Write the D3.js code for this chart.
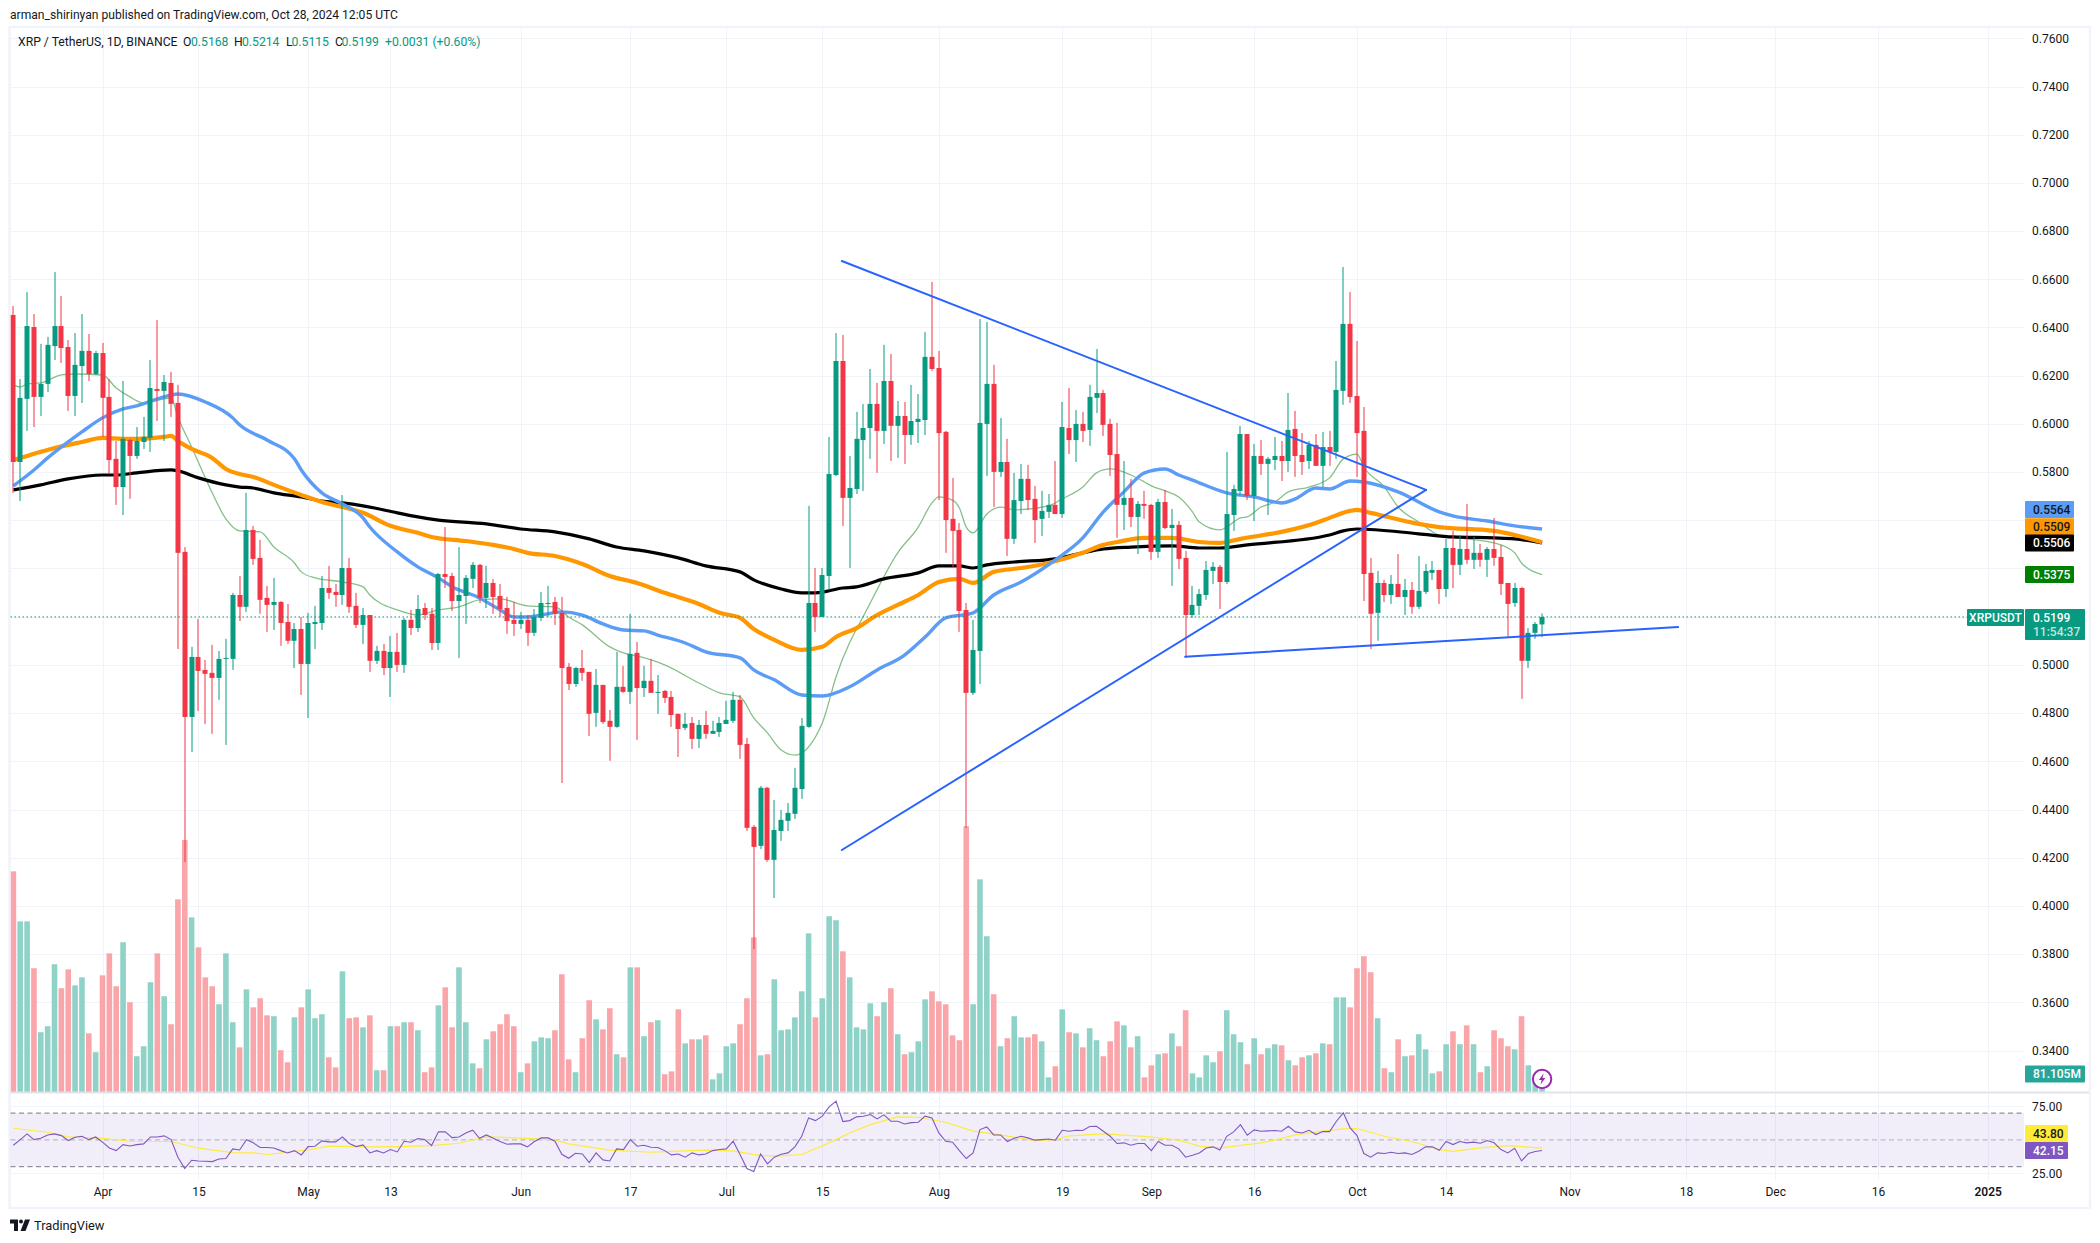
<!DOCTYPE html>
<html><head><meta charset="utf-8">
<style>
html,body{margin:0;padding:0;background:#fff}
svg{display:block}
text{font-family:Roboto,sans-serif}
</style>
<script src="https://cdn.jsdelivr.net/npm/d3@7/dist/d3.min.js"></script>
</head><body><svg id="c" width="2100" height="1243"></svg>
<script>
// ---- data (prices in USDT) ----
const firstDay = "2024-03-19";
const open = [
.6452,.5842,.6104,.6402,.6112,.6166,.6323,.6406,.6319,.6116,
.6240,.6303,.6207,.6294,.6112,.5855,.5738,.5933,.5867,.5925,
.5942,.6145,.6137,.6170,.6087,.5469,.4784,.5033,.4979,.4967,
.4946,.5025,.5025,.5290,.5241,.5560,.5444,.5278,.5249,.5261,
.5178,.5100,.5149,.5004,.5170,.5174,.5319,.5303,.5290,.5402,
.5245,.5166,.5207,.5017,.5058,.4987,.5054,.5000,.5187,.5153,
.5236,.5212,.5091,.5377,.5369,.5265,.5286,.5357,.5415,.5278,
.5340,.5286,.5236,.5187,.5170,.5187,.5133,.5195,.5253,.5261,
.5216,.4992,.4921,.4987,.4971,.4801,.4917,.4768,.4743,.4909,
.4888,.5050,.4904,.4934,.4884,.4892,.4867,.4797,.4739,.4759,
.4693,.4751,.4714,.4722,.4755,.4768,.4855,.4672,.4328,.4249,
.4490,.4191,.4311,.4353,.4382,.4485,.4743,.5257,.5199,.5369,
.5788,.6261,.5693,.5730,.5933,.5983,.6083,.5971,.6178,.5992,
.6033,.5954,.6008,.6016,.6278,.6232,.5967,.5606,.5560,.5228,
.4884,.5058,.6000,.6166,.5801,.5842,.5523,.5680,.5772,.5689,
.5606,.5635,.5664,.5626,.5983,.5933,.6000,.5975,.6108,.6128,
.6000,.5875,.5664,.5693,.5614,.5668,.5664,.5469,.5676,.5568,
.5581,.5444,.5207,.5245,.5290,.5390,.5407,.5344,.5622,.5722,
.5958,.5701,.5867,.5834,.5850,.5867,.5846,.5979,.5871,.5846,
.5913,.5826,.5904,.5884,.6137,.6415,.6116,.5971,.5382,.5216,
.5340,.5290,.5336,.5282,.5311,.5241,.5303,.5382,.5394,.5315,
.5485,.5415,.5481,.5436,.5465,.5436,.5481,.5448,.5340,.5257,
.5319,.5017,.5133,.5168];
const high = [
.6489,.6186,.6547,.6456,.6332,.6361,.6630,.6531,.6348,.6377,
.6456,.6373,.6303,.6336,.6186,.5929,.6178,.5938,.5987,.6029,
.6265,.6431,.6203,.6216,.6162,.5489,.5075,.5191,.5021,.5083,
.5058,.5108,.5299,.5369,.5714,.5577,.5519,.5328,.5361,.5265,
.5253,.5174,.5199,.5216,.5245,.5369,.5411,.5336,.5705,.5444,
.5299,.5236,.5207,.5079,.5087,.5120,.5133,.5195,.5228,.5290,
.5257,.5236,.5382,.5572,.5382,.5489,.5373,.5427,.5419,.5411,
.5357,.5336,.5282,.5261,.5220,.5207,.5232,.5303,.5328,.5282,
.5282,.5008,.4992,.5062,.4971,.4983,.4917,.4813,.5054,.4996,
.5212,.5095,.4996,.5025,.4958,.4896,.4892,.4797,.4801,.4784,
.4772,.4809,.4768,.4784,.4851,.4888,.4875,.4697,.4336,.4498,
.4494,.4440,.4398,.4427,.4573,.4780,.5660,.5402,.5402,.5946,
.6377,.6369,.5867,.6050,.6083,.6228,.6170,.6328,.6290,.6095,
.6091,.6162,.6124,.6381,.6589,.6303,.5971,.5776,.5589,.5257,
.5187,.6435,.6423,.6245,.6025,.5938,.5797,.5834,.5830,.5743,
.5722,.5709,.5846,.6091,.6149,.6058,.6050,.6162,.6311,.6141,
.6021,.6004,.5846,.5772,.5680,.5722,.5668,.5689,.5726,.5647,
.5597,.5473,.5328,.5315,.5431,.5427,.5415,.5884,.5747,.5992,
.5958,.5917,.5933,.5863,.5946,.5929,.6128,.6054,.5962,.5929,
.5958,.5967,.5971,.6261,.6651,.6547,.6344,.6070,.5444,.5390,
.5353,.5373,.5460,.5357,.5344,.5452,.5419,.5431,.5394,.5523,
.5556,.5539,.5668,.5531,.5502,.5489,.5610,.5498,.5340,.5340,
.5324,.5153,.5178,.5214];
const low = [
.5714,.5680,.5971,.5987,.6033,.6133,.6265,.6253,.6054,.6033,
.6087,.6178,.6203,.5946,.5792,.5664,.5622,.5689,.5855,.5896,
.5884,.6012,.5929,.6029,.5066,.4183,.4639,.4809,.4755,.4714,
.4855,.4668,.4979,.5182,.5220,.5415,.5212,.5137,.5145,.5079,
.5087,.4987,.4875,.4780,.5066,.5145,.5274,.5241,.5249,.5216,
.5153,.5087,.4971,.5004,.4958,.4867,.4971,.4967,.5124,.5137,
.5187,.5062,.5062,.5319,.5224,.5029,.5170,.5319,.5257,.5236,
.5212,.5199,.5129,.5120,.5149,.5079,.5120,.5182,.5199,.5166,
.4510,.4896,.4909,.4934,.4705,.4743,.4755,.4602,.4739,.4884,
.4838,.4689,.4867,.4884,.4797,.4842,.4743,.4618,.4730,.4651,
.4655,.4693,.4714,.4701,.4755,.4759,.4610,.4311,.3821,.4236,
.4183,.4033,.4270,.4311,.4361,.4444,.4739,.5137,.5199,.5311,
.5784,.5577,.5402,.5709,.5722,.5855,.5797,.5917,.5846,.5859,
.5834,.5913,.5921,.5954,.6220,.5684,.5465,.5407,.5137,.4324,
.4875,.4921,.5784,.5655,.5780,.5452,.5502,.5626,.5643,.5506,
.5535,.5610,.5626,.5610,.5875,.5842,.5925,.5909,.6045,.5950,
.5784,.5527,.5560,.5572,.5460,.5606,.5436,.5444,.5564,.5328,
.5398,.5029,.5195,.5207,.5270,.5336,.5232,.5336,.5556,.5705,
.5684,.5597,.5788,.5622,.5809,.5763,.5801,.5780,.5788,.5813,
.5826,.5738,.5826,.5855,.6079,.6087,.5780,.5265,.5066,.5100,
.5261,.5253,.5282,.5207,.5212,.5232,.5294,.5353,.5253,.5282,
.5319,.5373,.5419,.5398,.5407,.5365,.5411,.5290,.5116,.5241,
.4859,.4987,.5108,.5115];
const close = [
.5842,.6108,.6406,.6112,.6166,.6328,.6406,.6315,.6116,.6245,
.6303,.6207,.6294,.6108,.5850,.5738,.5938,.5867,.5929,.5946,
.6149,.6137,.6174,.6083,.5465,.4784,.5033,.4975,.4963,.4946,
.5025,.5029,.5290,.5241,.5560,.5440,.5270,.5249,.5261,.5174,
.5100,.5149,.5004,.5174,.5178,.5319,.5299,.5290,.5402,.5241,
.5166,.5207,.5017,.5058,.4987,.5054,.5000,.5187,.5153,.5232,
.5207,.5091,.5377,.5365,.5265,.5290,.5361,.5415,.5278,.5340,
.5282,.5232,.5182,.5170,.5187,.5133,.5199,.5257,.5257,.5212,
.4987,.4921,.4987,.4967,.4797,.4917,.4763,.4743,.4909,.4888,
.5046,.4904,.4934,.4884,.4888,.4863,.4792,.4734,.4755,.4693,
.4751,.4714,.4726,.4759,.4772,.4855,.4668,.4324,.4245,.4490,
.4191,.4315,.4357,.4386,.4490,.4747,.5257,.5199,.5373,.5792,
.6261,.5693,.5734,.5938,.5983,.6083,.5971,.6178,.5992,.6033,
.5954,.6012,.6021,.6278,.6228,.5962,.5601,.5556,.5224,.4884,
.5062,.6004,.6166,.5801,.5842,.5523,.5684,.5772,.5684,.5601,
.5639,.5664,.5626,.5987,.5933,.6000,.5971,.6112,.6128,.5996,
.5871,.5664,.5693,.5614,.5668,.5660,.5469,.5676,.5568,.5581,
.5440,.5207,.5249,.5294,.5394,.5407,.5344,.5626,.5730,.5958,
.5701,.5867,.5834,.5855,.5867,.5846,.5975,.5867,.5842,.5913,
.5826,.5904,.5884,.6141,.6415,.6112,.5962,.5377,.5212,.5340,
.5290,.5336,.5282,.5311,.5241,.5307,.5390,.5394,.5315,.5485,
.5415,.5481,.5436,.5465,.5436,.5481,.5444,.5336,.5253,.5319,
.5017,.5133,.5170,.5199];
// volume, millions
const volume = [
993,768,768,557,269,296,575,467,552,480,516,264,179,525,624,476,674,404,161,206,
494,624,431,305,867,1134,786,651,516,476,395,624,314,201,462,381,422,345,341,188,
134,336,381,462,332,350,156,111,543,332,336,291,345,98,98,296,296,314,314,278,
89,111,390,471,291,561,314,129,107,237,273,305,350,296,89,129,228,246,242,278,
530,147,89,242,413,327,282,377,170,156,561,561,251,314,323,80,93,372,219,237,
237,255,57,84,206,219,305,422,696,165,170,507,278,282,336,453,714,336,422,791,
773,633,516,291,282,399,341,404,467,260,170,179,228,417,453,408,395,255,233,1196,
395,957,701,440,206,242,341,246,246,260,228,66,116,372,269,264,201,287,233,161,
228,318,300,201,251,66,120,170,174,264,206,368,84,66,165,134,183,368,260,224,
125,242,170,197,215,210,143,120,156,165,174,219,215,426,426,381,557,611,539,332,
107,89,237,161,165,260,192,84,93,215,273,215,300,215,89,116,278,242,206,192,
341,120,68,81.105];
const rsi = [
46.0,50.2,54.5,50.2,51.2,53.7,54.5,53.2,49.5,52.0,52.7,50.2,52.2,48.3,44.0,42.0,46.5,45.5,46.5,47.0,
52.2,52.2,53.0,50.2,37.1,28.6,34.8,34.3,34.1,33.8,35.8,36.1,43.3,42.5,50.2,47.8,44.3,44.3,44.0,42.0,
40.3,42.0,38.8,45.0,45.3,49.3,48.5,48.5,52.2,47.3,45.0,46.3,40.3,42.0,40.3,42.8,41.0,49.0,48.3,51.0,
50.2,45.8,56.0,56.0,51.7,52.2,55.2,57.2,51.2,53.7,51.2,48.8,46.8,47.0,47.0,44.8,48.8,51.5,51.5,49.0,
39.3,36.3,40.0,39.5,33.1,40.3,35.1,34.3,43.3,42.8,50.2,45.3,46.0,44.5,44.3,42.0,38.8,39.5,37.1,40.3,
38.8,39.5,42.0,42.8,43.3,49.0,39.1,28.6,26.4,39.5,32.1,37.1,39.3,40.3,44.8,52.7,66.4,64.4,67.7,74.6,
78.9,63.7,64.4,67.2,67.7,68.9,65.7,68.7,63.9,63.9,61.9,62.9,63.2,67.7,66.4,55.2,49.0,48.3,42.0,36.1,
40.3,57.7,59.7,53.7,53.7,48.8,51.2,52.7,51.5,49.8,50.2,50.7,49.8,57.2,56.5,57.2,57.0,60.0,60.2,56.5,
52.7,47.3,47.8,46.0,47.3,47.3,42.0,48.8,46.0,46.0,43.3,37.1,38.6,40.3,44.0,44.8,42.5,52.7,56.0,61.4,
53.5,57.5,56.5,56.7,57.0,56.5,60.2,56.0,55.2,57.2,54.0,56.2,56.2,63.9,70.2,59.0,53.2,39.8,37.1,40.3,
39.8,40.8,39.8,40.3,39.1,41.5,44.8,44.8,42.3,48.8,46.5,48.8,47.8,48.3,47.5,49.5,47.8,42.8,40.3,43.8,
34.3,39.8,41.3,42.15];
// RSI moving average, read at selected bars
const rsiMaBar = [0,5,8,13,17,23,27,32,35,37,43,46,52,56,61,65,69,75,79,81,87,93,96,101,105,109,112,115,119,122,125,129,132,136,140,144,149,152,154,159,165,170,173,176,182,184,187,191,194,196,200,204,208,210,214,218,223];
const rsiMaVal = [58.7,55.7,52.2,51.2,49.0,48.8,43.8,40.5,40.3,39.1,42.5,45.3,44.8,45.0,45.8,47.5,52.2,51.2,50.0,47.0,42.3,40.8,41.5,42.3,41.8,38.3,38.1,39.1,47.8,55.2,61.4,67.2,66.9,63.2,56.5,53.7,49.5,50.2,53.0,54.5,52.7,49.8,45.3,44.0,47.8,49.8,53.7,56.5,58.2,58.5,52.7,48.8,42.8,41.5,44.0,45.8,43.8];
// moving averages on price, read at selected bars
const blueBar = [0,3,5,10,13,16,18,22,24,28,32,33,37,41,42,45,48,51,52,56,59,62,64,68,71,73,75,80,83,86,89,92,94,98,101,106,108,111,115,118,122,126,130,133,136,140,143,147,152,156,159,162,165,168,170,172,177,181,185,187,190,192,195,197,202,208,210,215,219,223];
const blueVal = [.5743,.5809,.5859,.5967,.6025,.6062,.6075,.6112,.6124,.6091,.6025,.5996,.5933,.5855,.5809,.5714,.5668,.5610,.5572,.5469,.5407,.5361,.5324,.5278,.5228,.5199,.5199,.5220,.5207,.5170,.5145,.5141,.5124,.5091,.5054,.5029,.4979,.4938,.4875,.4871,.4909,.4979,.5041,.5116,.5195,.5216,.5290,.5344,.5436,.5527,.5635,.5718,.5797,.5813,.5788,.5767,.5714,.5697,.5672,.5689,.5734,.5730,.5763,.5759,.5718,.5635,.5618,.5597,.5577,.5564];
const orangeBar = [0,2,4,6,10,13,16,18,22,23,24,26,29,31,33,35,38,42,45,48,51,55,59,61,66,70,73,75,79,83,87,91,95,100,103,106,108,111,115,118,120,123,126,129,132,135,138,140,143,147,151,156,159,161,165,169,173,176,179,185,190,192,195,196,198,205,208,216,219,223];
const orangeVal = [.5850,.5867,.5884,.5900,.5925,.5942,.5938,.5938,.5946,.5950,.5929,.5896,.5859,.5813,.5792,.5780,.5747,.5705,.5676,.5655,.5631,.5577,.5548,.5531,.5514,.5498,.5481,.5465,.5452,.5419,.5369,.5340,.5299,.5253,.5216,.5195,.5149,.5104,.5062,.5075,.5116,.5153,.5207,.5249,.5290,.5344,.5357,.5340,.5386,.5402,.5423,.5465,.5498,.5510,.5527,.5527,.5510,.5506,.5523,.5552,.5589,.5610,.5639,.5643,.5631,.5585,.5572,.5556,.5539,.5509];
const blackBar = [0,4,8,13,15,18,23,24,27,31,33,35,38,42,45,48,51,56,59,62,69,74,79,84,88,92,97,101,106,108,112,115,117,121,123,127,132,135,138,140,142,146,152,156,159,163,169,173,176,180,192,194,196,205,210,216,219,223];
const blackVal = [.5726,.5747,.5772,.5788,.5788,.5797,.5809,.5805,.5776,.5747,.5738,.5734,.5714,.5697,.5680,.5672,.5660,.5631,.5614,.5601,.5585,.5564,.5552,.5523,.5489,.5473,.5444,.5411,.5386,.5353,.5315,.5299,.5299,.5319,.5324,.5357,.5382,.5411,.5411,.5402,.5415,.5427,.5440,.5465,.5481,.5489,.5494,.5485,.5485,.5498,.5539,.5556,.5564,.5544,.5531,.5527,.5523,.5506];
const greenBar = [0,1,2,4,7,9,13,15,17,19,23,24,26,29,31,33,36,38,41,42,44,48,51,52,56,59,62,65,68,71,75,79,81,83,87,89,91,95,100,103,106,108,110,112,114,118,120,125,129,132,134,135,137,138,139,140,142,144,146,151,153,156,158,160,163,165,166,168,170,172,173,176,177,179,180,182,184,186,189,192,194,196,197,200,202,205,208,212,216,219,220,223];
const greenVal = [.6162,.6153,.6166,.6170,.6203,.6207,.6203,.6149,.6112,.6087,.6108,.6029,.5904,.5714,.5606,.5556,.5552,.5489,.5423,.5386,.5361,.5344,.5324,.5290,.5228,.5207,.5228,.5241,.5270,.5274,.5245,.5241,.5199,.5166,.5075,.5050,.5037,.5000,.4925,.4884,.4867,.4780,.4718,.4647,.4626,.4759,.4950,.5257,.5465,.5572,.5672,.5697,.5684,.5651,.5572,.5548,.5626,.5655,.5643,.5660,.5689,.5738,.5797,.5813,.5788,.5759,.5743,.5722,.5697,.5635,.5593,.5560,.5572,.5610,.5614,.5655,.5676,.5718,.5738,.5776,.5855,.5875,.5821,.5738,.5655,.5593,.5539,.5523,.5506,.5465,.5423,.5375];
// drawn trend lines: [bar, price, bar, price]
const trendLines = [[120.85,.6676,206.08,.5726],[120.85,.4232,206.08,.5726],[170.93,.5034,242.85,.5157]];
const priceGrid = [.76,.74,.72,.70,.68,.66,.64,.62,.60,.58,.56,.54,.52,.50,.48,.46,.44,.42,.40,.38,.36,.34];
const priceHiddenLabels = [.56,.54,.52]; // covered by the value tags in the reference
const rsiTicks = [75,25];
const rsiLevels = [70,50,30];
const timeTickDates = ["2024-04-01","2024-04-15","2024-05-01","2024-05-13","2024-06-01","2024-06-17","2024-07-01","2024-07-15","2024-08-01","2024-08-19","2024-09-01","2024-09-16","2024-10-01","2024-10-14","2024-11-01","2024-11-18","2024-12-01","2024-12-16","2025-01-01"];
const timeTickLabels = ["Apr","15","May","13","Jun","17","Jul","15","Aug","19","Sep","16","Oct","14","Nov","18","Dec","16","2025"];
const headerText = "arman_shirinyan published on TradingView.com, Oct 28, 2024 12:05 UTC";
const symbolText = "XRP / TetherUS, 1D, BINANCE";

// ---- layout ----
const UP="#089981", DOWN="#f23645", INK="#131722";
const L=10.5, R=2024, TOP=28, MAINB=1092, RSIB=1180;
const DAY=864e5, t0=Date.parse(firstDay);
const dateOf=i=>new Date(t0+i*DAY);
const x=d3.scaleUtc().domain([new Date("2024-04-01"),new Date("2024-10-01")]).range([102.5,1357]);
const xb=i=>x(dateOf(i));
const y=d3.scaleLinear().domain([.76,.34]).range([38.3,1050.5]);
const yv=d3.scaleLinear().domain([0,1000]).range([MAINB,MAINB-222.2]);
const yr=d3.scaleLinear().domain([75,25]).range([1106.4,1173.4]);

const svg=d3.select("#c");
svg.append("defs").append("clipPath").attr("id","pane").append("rect").attr("x",L).attr("y",TOP).attr("width",R-L).attr("height",MAINB-TOP);
const GRID="#f0f3fa";
svg.append("rect").attr("x",9.5).attr("y",27).attr("width",2080.5).attr("height",1181).attr("fill","#fff").attr("stroke",GRID).attr("stroke-width",2.4);

// grid
const tDates=timeTickDates.map(d=>new Date(d));
const g=svg.append("g").attr("stroke",GRID).attr("stroke-width",1);
g.selectAll(".v").data(tDates).join("line").attr("x1",d=>Math.round(x(d))+.5).attr("x2",d=>Math.round(x(d))+.5).attr("y1",TOP).attr("y2",RSIB);
g.selectAll(".h").data(priceGrid).join("line").attr("x1",L).attr("x2",R).attr("y1",d=>Math.round(y(d))+.5).attr("y2",d=>Math.round(y(d))+.5);

// main pane
const main=svg.append("g").attr("clip-path","url(#pane)");
const bars=d3.range(close.length);
const isUp=i=>close[i]>=open[i];
main.append("g").selectAll("rect").data(bars).join("rect")
 .attr("x",i=>xb(i)-2.8).attr("width",5.6)
 .attr("y",i=>yv(volume[i])).attr("height",i=>MAINB-yv(volume[i]))
 .attr("fill",i=>isUp(i)?"#8fd2c7":"#f9a5a9");

function drawMA(bar,val,color,w){
  const ln=d3.line().x(d=>xb(d[0])).y(d=>y(d[1])).curve(d3.curveMonotoneX);
  main.append("path").attr("d",ln(bar.map((b,k)=>[b,val[k]]))).attr("fill","none").attr("stroke",color).attr("stroke-width",w).attr("stroke-linejoin","round");
}
drawMA(greenBar,greenVal,"#85c088",1.3);
drawMA(blackBar,blackVal,"#000000",3.2);
drawMA(orangeBar,orangeVal,"#ff9800",4.2);
drawMA(blueBar,blueVal,"#5b9cf6",3.4);

const cg=main.append("g");
cg.selectAll(".w").data(bars).join("rect")
 .attr("x",i=>Math.round(xb(i))-.5).attr("width",1)
 .attr("y",i=>y(high[i])).attr("height",i=>y(low[i])-y(high[i]))
 .attr("fill",i=>isUp(i)?UP:DOWN);
cg.selectAll(".b").data(bars).join("rect")
 .attr("x",i=>Math.round(xb(i))-2.5).attr("width",5)
 .attr("y",i=>y(Math.max(open[i],close[i])))
 .attr("height",i=>Math.max(1,Math.abs(y(open[i])-y(close[i]))))
 .attr("fill",i=>isUp(i)?UP:DOWN);

main.append("g").selectAll("line").data(trendLines).join("line")
 .attr("x1",d=>xb(d[0])).attr("y1",d=>y(d[1])).attr("x2",d=>xb(d[2])).attr("y2",d=>y(d[3]))
 .attr("stroke","#2962ff").attr("stroke-width",2).attr("stroke-linecap","round");

const lastC=close[close.length-1];
svg.append("line").attr("x1",L).attr("x2",1967).attr("y1",y(lastC)).attr("y2",y(lastC))
 .attr("stroke",UP).attr("stroke-width",1).attr("stroke-dasharray","1.5 2.5");

svg.append("line").attr("x1",L).attr("x2",2089).attr("y1",MAINB+.5).attr("y2",MAINB+.5).attr("stroke","#e0e3eb").attr("stroke-width",2);

// RSI pane
svg.append("rect").attr("x",L).attr("width",R-L).attr("y",yr(70)).attr("height",yr(30)-yr(70)).attr("fill","#7e57c2").attr("fill-opacity",.1);
const gr=svg.append("g");
gr.selectAll("line.t").data(rsiTicks).join("line").attr("x1",L).attr("x2",R).attr("y1",d=>yr(d)).attr("y2",d=>yr(d)).attr("stroke",GRID);
gr.selectAll("line.l").data(rsiLevels).enter().append("line").attr("x1",L).attr("x2",R).attr("y1",d=>yr(d)).attr("y2",d=>yr(d))
 .attr("stroke","#787b86").attr("stroke-opacity",d=>d===50?.55:1).attr("stroke-width",1).attr("stroke-dasharray","5 3.5");
const lr=d3.line().x(d=>xb(d[0])).y(d=>yr(d[1]));
gr.append("path").attr("d",lr(rsiMaBar.map((b,k)=>[b,rsiMaVal[k]]))).attr("fill","none").attr("stroke","#fdeb3f").attr("stroke-width",1.2);
gr.append("path").attr("d",lr(rsi.map((v,k)=>[k,v]))).attr("fill","none").attr("stroke","#7e57c2").attr("stroke-width",1.1);

// axes
const FS=12;
function styleAxis(a){a.select(".domain").remove();a.selectAll(".tick line").remove();
 a.selectAll("text").attr("fill",INK).style("font-size",FS+"px").style("font-family","Roboto,sans-serif");}
const priceLabels=priceGrid.filter(v=>!priceHiddenLabels.includes(v));
const ya=svg.append("g").attr("transform",`translate(${R},0)`).call(d3.axisRight(y).tickValues(priceLabels).tickFormat(d3.format(".4f")).tickSize(0).tickPadding(8));
styleAxis(ya);
const ra=svg.append("g").attr("transform",`translate(${R},0)`).call(d3.axisRight(yr).tickValues(rsiTicks).tickFormat(d3.format(".2f")).tickSize(0).tickPadding(8));
styleAxis(ra);
const xa=svg.append("g").attr("transform",`translate(0,1187)`).call(d3.axisBottom(x).tickValues(tDates).tickFormat((d,k)=>timeTickLabels[k]).tickSize(0).tickPadding(0));
styleAxis(xa);
xa.selectAll("text").attr("y",0).attr("dy",".72em").style("font-weight",(d,k)=>timeTickLabels[k]==="2025"?600:400);

// tags
function tag(x0,w,cy,h,bg,fg,txt){
 svg.append("rect").attr("x",x0).attr("y",cy-h/2).attr("width",w).attr("height",h).attr("fill",bg).attr("rx",1);
 svg.append("text").attr("x",x0+8).attr("y",cy).attr("dy",".36em").attr("fill",fg).style("font-size",FS+"px").style("font-weight",500).text(txt);
}
const last=a=>a[a.length-1];
tag(2025,49,y(last(blueVal))-19.5,17,"#5b9cf6",INK,last(blueVal).toFixed(4));
tag(2025,49,y(last(orangeVal))-15.5,17,"#ff9800",INK,last(orangeVal).toFixed(4));
tag(2025,49,y(last(blackVal)),17,"#000000","#fff",last(blackVal).toFixed(4));
tag(2025,49,y(last(greenVal)),17,"#008000","#fff",last(greenVal).toFixed(4));
svg.append("rect").attr("x",1967).attr("y",609).attr("width",57).attr("height",17).attr("fill",UP).attr("rx",1);
svg.append("text").attr("x",1995.5).attr("y",617.5).attr("dy",".36em").attr("text-anchor","middle").attr("fill","#fff").style("font-size","12px").style("font-weight",500).text("XRPUSDT");
svg.append("rect").attr("x",2025).attr("y",609).attr("width",60).attr("height",31).attr("fill",UP).attr("rx",1);
svg.append("text").attr("x",2033).attr("y",617.5).attr("dy",".36em").attr("fill","#fff").style("font-size",FS+"px").style("font-weight",500).text(lastC.toFixed(4));
svg.append("text").attr("x",2033).attr("y",631.5).attr("dy",".36em").attr("fill","#c3e6df").style("font-size",FS+"px").style("font-weight",500).text("11:54:37");
tag(2025,60,yv(last(volume)),17,"#26a69a","#fff",last(volume).toFixed(3)+"M");
tag(2025,43,yr(last(rsi))-17,17,"#ffeb3b",INK,last(rsiMaVal).toFixed(2));
tag(2025,43,yr(last(rsi)),17,"#7e57c2","#fff",last(rsi).toFixed(2));

// icon
const ic=svg.append("g").attr("transform",`translate(${xb(close.length-1)},1079)`);
ic.append("circle").attr("r",9.2).attr("fill","#fff").attr("stroke","#9c27b0").attr("stroke-width",2);
ic.append("path").attr("d","M1.6,-5.8 L-3.2,1 L-0.4,1 L-1.6,5.8 L3.2,-1 L0.4,-1 Z").attr("fill","#9c27b0");

// header
svg.append("text").attr("x",10).attr("y",15).attr("dy",".36em").attr("fill",INK).style("font-size","12.1px").text(headerText);
const lg=svg.append("g").style("font-size","12.2px");
lg.append("text").attr("x",18).attr("y",41.5).attr("dy",".36em").attr("fill",INK).text(symbolText);
const ohlc=[["O",183,191,open],["H",234,242,high],["L",286,291.5,low],["C",335,341.5,close]];
ohlc.forEach(o=>{
 lg.append("text").attr("x",o[1]).attr("y",41.5).attr("dy",".36em").attr("fill",INK).text(o[0]);
 lg.append("text").attr("x",o[2]).attr("y",41.5).attr("dy",".36em").attr("fill",UP).text(last(o[3]).toFixed(4));
});
lg.append("text").attr("x",385).attr("y",41.5).attr("dy",".36em").attr("fill",UP).text("+0.0031 (+0.60%)");

// logo
const lo=svg.append("g").attr("fill",INK);
lo.append("path").attr("d","M10,1219.5 H18 V1231 H14 V1223.5 H10 Z");
lo.append("circle").attr("cx",21).attr("cy",1221.5).attr("r",2);
lo.append("path").attr("d","M25,1219.5 H30 L25.5,1231 H20.5 Z");
svg.append("text").attr("x",34).attr("y",1225.5).attr("dy",".36em").attr("fill",INK).style("font-size","12.8px").text("TradingView");
</script></body></html>
